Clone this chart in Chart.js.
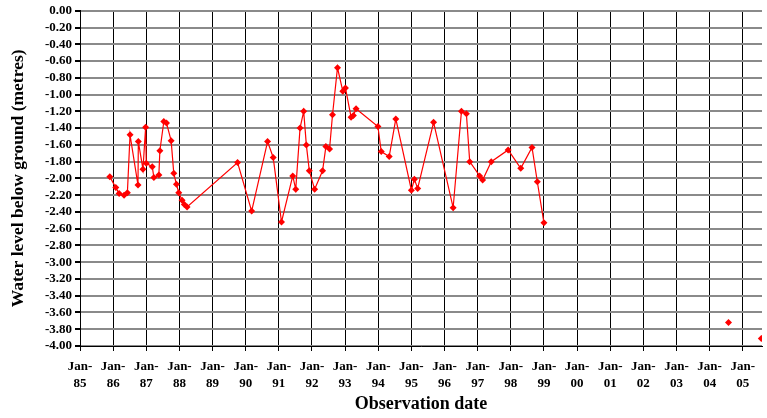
<!DOCTYPE html>
<html>
<head>
<meta charset="utf-8">
<script src="https://cdn.jsdelivr.net/npm/chart.js@4.4.0/dist/chart.umd.min.js"></script>
<style>
html,body{margin:0;padding:0;background:#fff;}
#wrap{width:767px;height:418px;position:relative;}
</style>
</head>
<body>
<div id="wrap"><canvas id="c" width="767" height="418"></canvas></div>
<script>
// Observation dates as decimal years, water level below ground (m)
const obsDates = [1985.90, 1986.08, 1986.18, 1986.33, 1986.43, 1986.51, 1986.75, 1986.76, 1986.90, 1986.98,
  1987.00, 1987.18, 1987.23, 1987.38, 1987.41, 1987.53, 1987.61, 1987.75, 1987.83, 1987.91,
  1987.98, 1988.08, 1988.15, 1988.23,
  1989.755, 1990.18, 1990.66, 1990.83, 1991.08, 1991.42, 1991.51, 1991.64, 1991.75, 1991.83,
  1991.92, 1992.08, 1992.32, 1992.42, 1992.53, 1992.62, 1992.77, 1992.93, 1993.01, 1993.18,
  1993.25, 1993.33, 1993.99, 1994.09, 1994.33, 1994.53, 1995.00, 1995.09, 1995.19, 1995.67,
  1996.26, 1996.51, 1996.66, 1996.76, 1997.06, 1997.15, 1997.41, 1997.92, 1998.30, 1998.64,
  1998.80, 1999.00];
const obsLevels = [-1.98, -2.11, -2.18, -2.20, -2.17, -1.48, -2.08, -1.56, -1.89, -1.39,
  -1.82, -1.86, -1.99, -1.96, -1.67, -1.32, -1.34, -1.55, -1.94, -2.07,
  -2.17, -2.26, -2.31, -2.34,
  -1.81, -2.39, -1.56, -1.75, -2.52, -1.97, -2.13, -1.40, -1.20, -1.60,
  -1.91, -2.13, -1.91, -1.62, -1.65, -1.24, -0.68, -0.96, -0.92, -1.27,
  -1.25, -1.17, -1.38, -1.68, -1.74, -1.29, -2.14, -2.01, -2.12, -1.33,
  -2.35, -1.20, -1.23, -1.80, -1.97, -2.02, -1.80, -1.66, -1.88, -1.63,
  -2.04, -2.53];
// Later isolated readings (not joined by a line)
const laterDates = [2004.57, 2005.56];
const laterLevels = [-3.72, -3.91];
// Axis settings
const xMin = 1985, xMax = 2005.58;
const yMin = -4.0, yMax = 0.0, yStep = 0.2;
const yTitle = 'Water level below ground (metres)';
const xTitle = 'Observation date';

const toPts = (xs, ys) => xs.map((x, i) => ({x: x, y: ys[i]}));
const serif = '"Liberation Serif", "Times New Roman", serif';

new Chart(document.getElementById('c'), {
  type: 'line',
  data: {
    datasets: [
      {
        data: toPts(obsDates, obsLevels),
        borderColor: '#ff0000', backgroundColor: '#ff0000',
        borderWidth: 1.2, pointStyle: 'rectRot', pointRadius: 3.5,
        pointBorderWidth: 0, tension: 0
      },
      {
        data: toPts(laterDates, laterLevels),
        showLine: false,
        borderColor: '#ff0000', backgroundColor: '#ff0000',
        pointStyle: 'rectRot', pointRadius: 3.5, pointBorderWidth: 0
      }
    ]
  },
  options: {
    responsive: false, animation: false,
    layout: {padding: {top: 10, right: 5, left: 0, bottom: 0}},
    plugins: {legend: {display: false}, tooltip: {enabled: false}},
    scales: {
      x: {
        type: 'linear', min: xMin, max: xMax,
        afterFit: s => { s.height = 72; },
        ticks: {
          stepSize: 1, includeBounds: false, autoSkip: false, maxRotation: 0,
          color: '#000', padding: 7,
          font: {family: serif, size: 13, weight: 'bold', lineHeight: 1.3},
          callback: v => ['Jan-', String(Math.round(v) % 100).padStart(2, '0')]
        },
        grid: {color: '#000', lineWidth: 1, tickLength: 5, tickColor: '#000'},
        border: {display: true, color: '#000', width: 1},
        title: {display: true, text: xTitle, color: '#000',
          font: {family: serif, size: 18, weight: 'bold'}, padding: {top: 0, bottom: 3}}
      },
      y: {
        type: 'linear', min: yMin, max: yMax,
        afterFit: s => { s.width = 80; },
        ticks: {
          stepSize: yStep, autoSkip: false, color: '#000', padding: 3,
          font: {family: serif, size: 13, weight: 'bold'},
          callback: v => (Math.abs(v) < 1e-9 ? 0 : v).toFixed(2)
        },
        grid: {color: '#8a8a8a', lineWidth: 2, tickLength: 5, tickColor: '#000'},
        border: {display: true, color: '#000', width: 1},
        title: {display: true, text: yTitle, color: '#000',
          font: {family: serif, size: 17.5, weight: 'bold'}, padding: {top: 8, bottom: 0}}
      }
    }
  }
});
</script>
</body>
</html>
